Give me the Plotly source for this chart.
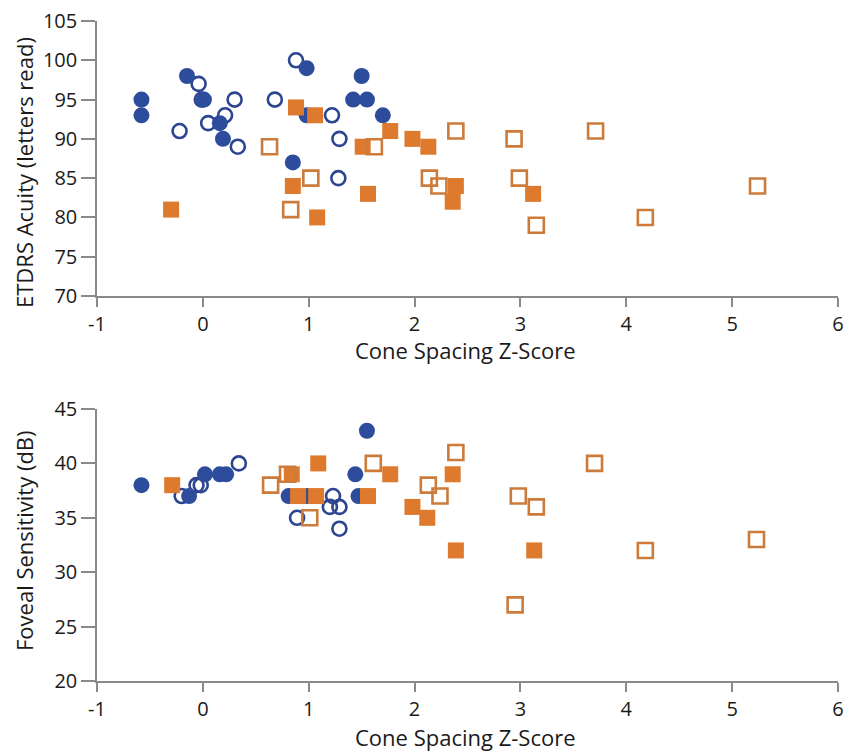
import plotly.graph_objects as go

# ---- Data: top panel (ETDRS acuity) ----
blue_filled_x_acu = [-0.58, -0.58, -0.15, 0.01, 0.16, 0.19, 0.85, 0.98, 0.98, 1.42, 1.50, 1.55, 1.70]
blue_filled_y_acu = [95, 93, 98, 95, 92, 90, 87, 99, 93, 95, 98, 95, 93]

blue_open_x_acu = [-0.22, -0.04, -0.01, 0.05, 0.21, 0.30, 0.33, 0.68, 0.88, 1.22, 1.29, 1.28]
blue_open_y_acu = [91, 97, 95, 92, 93, 95, 89, 95, 100, 93, 90, 85]

orange_filled_x_acu = [-0.30, 0.85, 0.88, 1.06, 1.08, 1.51, 1.56, 1.77, 1.98, 2.13, 2.36, 2.39, 3.12]
orange_filled_y_acu = [81, 84, 94, 93, 80, 89, 83, 91, 90, 89, 82, 84, 83]

orange_open_x_acu = [0.63, 0.83, 1.02, 1.62, 2.14, 2.23, 2.39, 2.94, 2.99, 3.15, 3.71, 4.18, 5.24]
orange_open_y_acu = [89, 81, 85, 89, 85, 84, 91, 90, 85, 79, 91, 80, 84]

# ---- Data: bottom panel (foveal sensitivity) ----
blue_filled_x_sen = [-0.58, -0.13, 0.02, 0.16, 0.22, 0.81, 0.98, 1.44, 1.47, 1.55]
blue_filled_y_sen = [38, 37, 39, 39, 39, 37, 37, 39, 37, 43]

blue_open_x_sen = [-0.20, -0.06, -0.02, 0.34, 0.89, 1.20, 1.23, 1.29, 1.29]
blue_open_y_sen = [37, 38, 38, 40, 35, 36, 37, 36, 34]

orange_filled_x_sen = [-0.29, 0.84, 0.90, 1.07, 1.09, 1.56, 1.77, 1.98, 2.12, 2.36, 2.39, 3.13]
orange_filled_y_sen = [38, 39, 37, 37, 40, 37, 39, 36, 35, 39, 32, 32]

orange_open_x_sen = [0.64, 0.80, 1.01, 1.61, 2.13, 2.24, 2.39, 2.95, 2.98, 3.15, 3.70, 4.18, 5.23]
orange_open_y_sen = [38, 39, 35, 40, 38, 37, 41, 27, 37, 36, 40, 32, 33]

x_tick_vals = [-1, 0, 1, 2, 3, 4, 5, 6]
x_tick_text = ["-1", "0", "1", "2", "3", "4", "5", "6"]
acu_tick_vals = [70, 75, 80, 85, 90, 95, 100, 105]
sen_tick_vals = [20, 25, 30, 35, 40, 45]

x_title = "Cone Spacing Z-Score"
acu_title = "ETDRS Acuity (letters read)"
sen_title = "Foveal Sensitivity (dB)"

BLUE = "#2E4C9C"
BLUE_OPEN = "#2C4590"
ORANGE = "#DE7A2D"
ORANGE_OPEN = "#CC7B3A"

FONT = "Open Sans"
TXT = "#1a1a1a"


def add_panel(fig, xa, ya, bfx, bfy, box, boy, ofx, ofy, oox, ooy):
    fig.add_trace(go.Scatter(x=box, y=boy, mode="markers", xaxis=xa, yaxis=ya,
                             marker=dict(symbol="circle-open", size=14, color=BLUE_OPEN,
                                         line=dict(width=2.6, color=BLUE_OPEN)),
                             showlegend=False))
    fig.add_trace(go.Scatter(x=bfx, y=bfy, mode="markers", xaxis=xa, yaxis=ya,
                             marker=dict(symbol="circle", size=16, color=BLUE,
                                         line=dict(width=0)),
                             showlegend=False))
    fig.add_trace(go.Scatter(x=ofx, y=ofy, mode="markers", xaxis=xa, yaxis=ya,
                             marker=dict(symbol="square", size=16, color=ORANGE,
                                         line=dict(width=0)),
                             showlegend=False))
    fig.add_trace(go.Scatter(x=oox, y=ooy, mode="markers", xaxis=xa, yaxis=ya,
                             marker=dict(symbol="square-open", size=15, color=ORANGE_OPEN,
                                         line=dict(width=2.6, color=ORANGE_OPEN)),
                             showlegend=False))


fig = go.Figure()
add_panel(fig, "x", "y", blue_filled_x_acu, blue_filled_y_acu, blue_open_x_acu, blue_open_y_acu,
          orange_filled_x_acu, orange_filled_y_acu, orange_open_x_acu, orange_open_y_acu)
add_panel(fig, "x2", "y2", blue_filled_x_sen, blue_filled_y_sen, blue_open_x_sen, blue_open_y_sen,
          orange_filled_x_sen, orange_filled_y_sen, orange_open_x_sen, orange_open_y_sen)

axis_common = dict(showgrid=False, zeroline=False, showline=True, linecolor="#8a8a8a",
                   linewidth=1.5, ticks="outside", tickcolor="#8a8a8a", tickwidth=1.5,
                   automargin=False, ticklabeloverflow="allow",
                   tickfont=dict(family=FONT, size=20, color=TXT))

title_font = dict(family=FONT, size=22, color=TXT)

fig.update_layout(
    width=847, height=751,
    margin=dict(l=97, r=9, t=21, b=70, autoexpand=False),
    paper_bgcolor="white", plot_bgcolor="white",
    font=dict(family=FONT, color=TXT),
    xaxis=dict(domain=[0, 1], anchor="y", range=[-1, 6], tickvals=x_tick_vals,
               ticktext=x_tick_text, ticklen=9, **axis_common),
    yaxis=dict(domain=[0.5833, 1.0], anchor="x", range=[70, 105], tickvals=acu_tick_vals,
               ticklen=14, **axis_common),
    xaxis2=dict(domain=[0, 1], anchor="y2", range=[-1, 6], tickvals=x_tick_vals,
                ticktext=x_tick_text, ticklen=9, **axis_common),
    yaxis2=dict(domain=[0, 0.4121], anchor="x2", range=[20, 45], tickvals=sen_tick_vals,
                ticklen=14, **axis_common),
    annotations=[
        dict(text=x_title, xref="paper", yref="paper", x=(465 - 97) / 741, y=(681 - 350) / 660,
             xanchor="center", yanchor="middle", showarrow=False, font=title_font),
        dict(text=x_title, xref="paper", yref="paper", x=(465 - 97) / 741, y=(681 - 737) / 660,
             xanchor="center", yanchor="middle", showarrow=False, font=title_font),
        dict(text=acu_title, xref="paper", yref="paper", x=(24 - 97) / 741, y=(681 - 173) / 660,
             xanchor="center", yanchor="middle", showarrow=False, textangle=-90, font=title_font),
        dict(text=sen_title, xref="paper", yref="paper", x=(24 - 97) / 741, y=(681 - 541) / 660,
             xanchor="center", yanchor="middle", showarrow=False, textangle=-90, font=title_font),
    ],
)

# remove the browser's default 8px page margin so the figure fills the window exactly
fig.write_html(
    "out.html",
    config={"displayModeBar": False},
    post_script="document.body.style.margin='0';document.body.style.overflow='hidden';",
)
